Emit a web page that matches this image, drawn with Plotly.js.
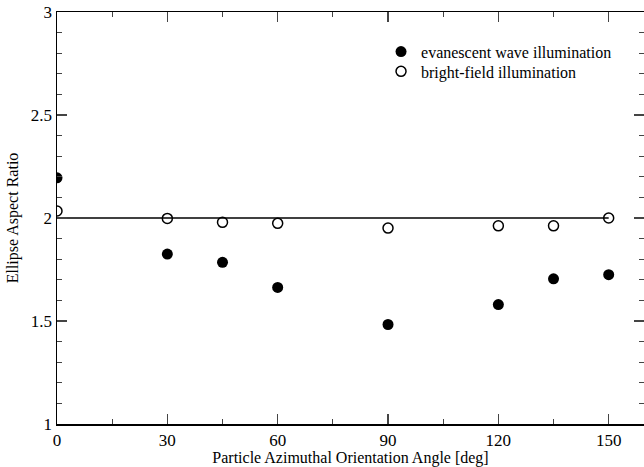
<!DOCTYPE html>
<html><head><meta charset="utf-8">
<script src="https://cdn.plot.ly/plotly-3.0.1.min.js"></script>
<style>html,body{margin:0;padding:0;background:#fff}</style>
</head><body><div id="chart" style="width:644px;height:467px"></div>
<script>
const angles = [0, 30, 45, 60, 90, 120, 135, 150];
const evanescent = [2.195, 1.825, 1.785, 1.663, 1.483, 1.58, 1.705, 1.725];
const brightField = [2.034, 1.998, 1.979, 1.974, 1.951, 1.962, 1.962, 2.0];
const refX = [0, 150];
const refY = [2, 2];
const xTicks = [0, 30, 60, 90, 120, 150];
const yTicks = [1, 1.5, 2, 2.5, 3];

const font = 'Liberation Serif, Times New Roman, serif';
const traces = [
  {x: refX, y: refY, mode: 'lines', line: {color: '#000', width: 1.5}, showlegend: false, hoverinfo: 'skip'},
  {x: angles, y: evanescent, mode: 'markers', name: 'evanescent wave illumination', legend: 'legend',
   marker: {symbol: 'circle', size: 11, color: '#000', line: {width: 0}}},
  {x: angles, y: brightField, mode: 'markers', name: 'bright-field illumination', legend: 'legend2',
   marker: {symbol: 'circle-open', size: 10, color: '#000', line: {width: 1.5, color: '#000'}}}
];
const legendBase = {xanchor: 'left', yanchor: 'top', bgcolor: 'rgba(0,0,0,0)',
                    font: {family: font, size: 16}, itemwidth: 30};
const layout = {
  width: 644, height: 467,
  margin: {l: 57, r: 0, t: 12, b: 43},
  paper_bgcolor: '#fff', plot_bgcolor: '#fff',
  font: {family: font, size: 16, color: '#000'},
  showlegend: true,
  legend: Object.assign({x: 0.552, y: 0.945}, legendBase),
  legend2: Object.assign({x: 0.552, y: 0.897}, legendBase),
  xaxis: {range: [0, 159.6], tickvals: xTicks, ticks: 'inside', ticklen: 10, tickwidth: 1.2,
          showline: true, linecolor: '#000', linewidth: 1.5, mirror: 'allticks', showgrid: false, zeroline: false,
          minor: {dtick: 15, tick0: 0, ticks: 'inside', ticklen: 5, tickwidth: 1.2, showgrid: false},
          tickfont: {family: font, size: 17},
          title: {text: 'Particle Azimuthal Orientation Angle [deg]', font: {family: font, size: 16}, standoff: 1}},
  yaxis: {range: [1, 3], tickvals: yTicks, ticktext: ['1', '1.5', '2', '2.5', '3'], ticks: 'inside', ticklen: 10, tickwidth: 1.2,
          showline: true, linecolor: '#000', linewidth: 1.5, mirror: 'allticks', showgrid: false, zeroline: false,
          minor: {dtick: 0.1, tick0: 1, ticks: 'inside', ticklen: 5, tickwidth: 1.2, showgrid: false},
          tickfont: {family: font, size: 17},
          title: {text: 'Ellipse Aspect Ratio', font: {family: font, size: 16}, standoff: 8}}
};
Plotly.newPlot('chart', traces, layout, {displayModeBar: false, staticPlot: true});
</script></body></html>
